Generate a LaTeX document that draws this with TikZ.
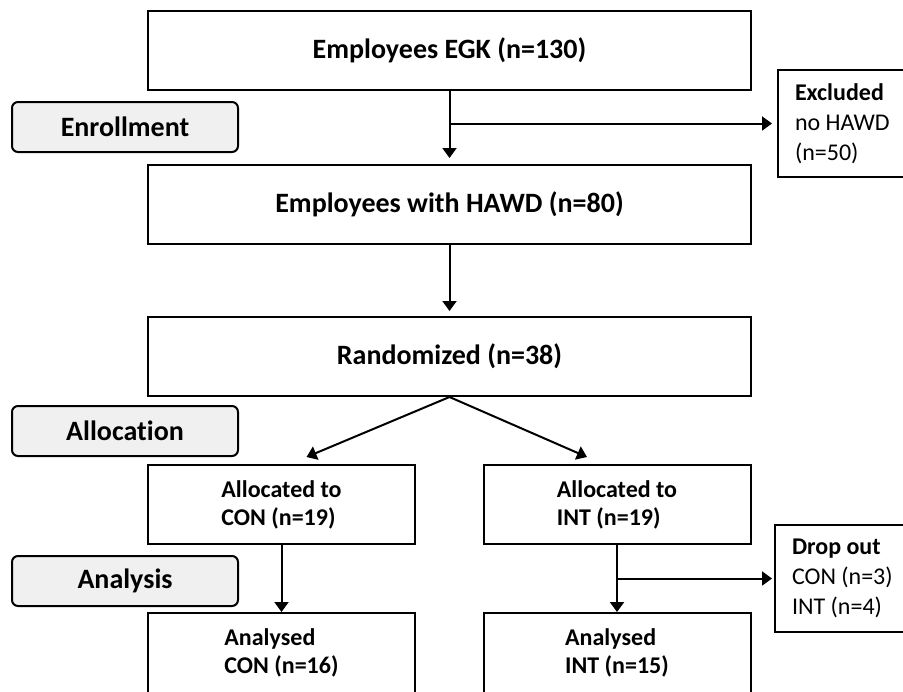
\documentclass[tikz,border=0pt]{standalone}
\usepackage{fontspec}
\setmainfont{Carlito}[Ligatures=NoCommon]
\usepackage{xcolor}
\usetikzlibrary{arrows.meta}
\definecolor{phasegray}{RGB}{240,240,240}
\def\mainwidth{301.5pt}
\def\armwidth{133.5pt}

\begin{document}
\begin{tikzpicture}[x=0.5pt,y=-0.5pt,line width=1pt,-{Triangle[length=5pt,width=7pt]}]
    \tikzstyle{flowbox}=[draw,rectangle,inner sep=2pt]
    \tikzstyle{main box}=[flowbox, minimum width=\mainwidth, minimum height=39.5pt, font=\fontsize{14}{17}\selectfont\bfseries]
    \tikzstyle{arm box}=[flowbox, minimum width=\armwidth, minimum height=39.5pt, align=left, font=\fontsize{12}{14}\selectfont\bfseries]
    \tikzstyle{side box}=[flowbox, anchor=north west, minimum height=53.5pt, text width=70pt, inner xsep=8.5pt, align=flush left, font=\fontsize{12}{15}\selectfont]
    \tikzstyle{phase}=[flowbox, rounded corners=3pt, fill=phasegray, minimum width=113pt, minimum height=25pt, font=\fontsize{14}{17}\selectfont\bfseries]

    \clip (0,0) rectangle (903,691);

    % Phase labels on the left
    \foreach \name / \y / \txt in {enroll/127/Enrollment, alloc/431/Allocation, analysis/581/Analysis}
        \node[phase] (\name) at (125,\y) {\txt};

    % Main column
    \node[main box] (egk) at (449.5,50) {Employees EGK (n=130)};
    \node[main box] (hawd) at (449.5,204.5) {Employees with HAWD (n=80)};
    \node[main box] (rand) at (449.5,356.5) {Randomized (n=38)};

    % The two arms
    \node[arm box] (acon) at (281.5,504.5) {Allocated to\\CON (n=19)};
    \node[arm box] (aint) at (617,504.5) {Allocated to\\INT (n=19)};
    \node[arm box, minimum height=40pt] (ancon) at (281.5,653) {Analysed\\CON (n=16)};
    \node[arm box, minimum height=40pt] (anint) at (617,653) {Analysed\\INT (n=15)};

    % Boxes on the right
    \node[side box] (excl) at (777,69) {\textbf{Excluded}\\no HAWD\\(n=50)};
    \node[side box] (drop) at (774,524) {\textbf{Drop out}\\CON (n=3)\\INT (n=4)};

    % Connect the boxes
    \draw[shorten >=3pt] (egk) -- (hawd);
    \coordinate (split1) at (egk.south |- excl.west);
    \draw[shorten >=2.5pt] (split1) -- (excl.west);
    \draw[shorten >=2.5pt] (hawd) -- (rand);

    \draw (rand.south) -- ([xshift=12.5pt,yshift=3.5pt]acon.north);
    \draw (rand.south) -- ([xshift=-15pt,yshift=3.5pt]aint.north);

    \draw (acon) -- (ancon);
    \draw (aint) -- (anint);
    \coordinate (split2) at (aint.south |- drop.west);
    \draw[shorten >=1pt] (split2) -- (drop.west);

\end{tikzpicture}
\end{document}
